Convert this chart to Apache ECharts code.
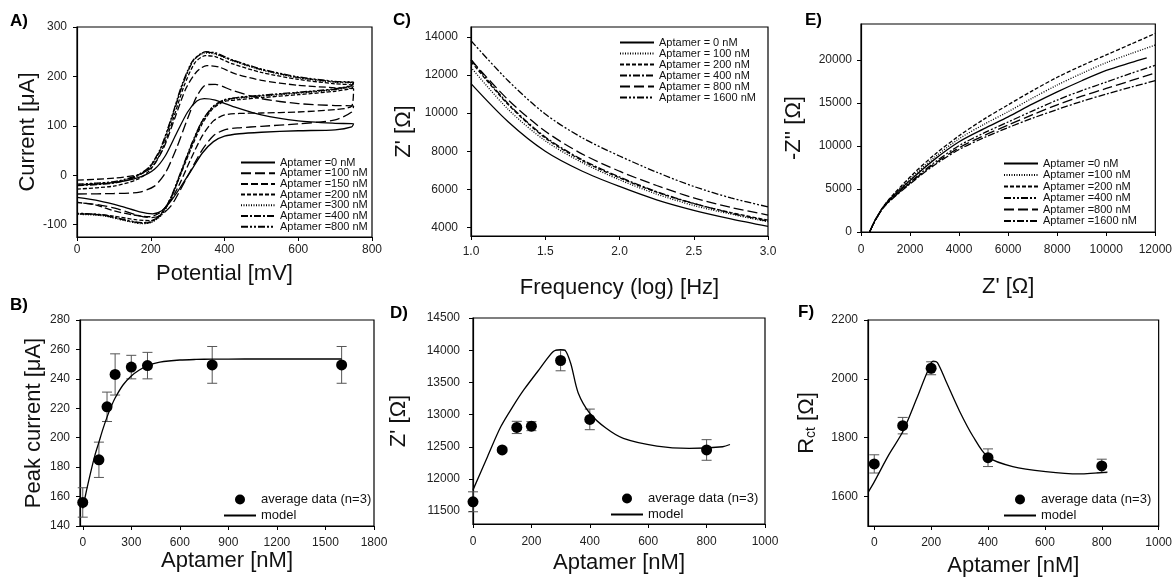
<!DOCTYPE html>
<html>
<head>
<meta charset="utf-8">
<script src="https://cdn.jsdelivr.net/npm/echarts@6/dist/echarts.min.js"></script>
<style>
  html, body { margin: 0; padding: 0; background: #fff; }
  #chart { width: 1175px; height: 583px; }
</style>
</head>
<body>
<div id="chart"></div>
<script>
// ---- A) cyclic voltammetry, [potential mV, current uA], forward then reverse scan
const cv0 = [[0,-20],[100,-15],[170,-4],[210,12],[240,40],[270,85],[300,128],[325,150],[345,155],[375,152],[420,140],[500,122],[600,110],[700,105],[750,104],
  [745,98],[700,92],[600,90],[500,87],[440,84],[400,79],[370,68],[340,45],[310,10],[280,-25],[255,-52],[230,-72],[205,-78],[170,-74],[120,-63],[60,-52],[0,-45]];
const cv100 = [[0,-38],[100,-37],[170,-34],[210,-22],[240,5],[270,55],[300,115],[325,160],[350,183],[375,184],[420,172],[500,155],[600,145],[700,141],[750,140],
  [745,128],[700,112],[600,104],[500,99],[440,96],[400,92],[370,80],[340,52],[310,12],[280,-30],[255,-62],[225,-82],[200,-86],[160,-80],[110,-68],[60,-60],[0,-55]];
const cv150 = [[0,-10],[100,-6],[170,2],[205,18],[235,55],[265,115],[295,175],[325,210],[352,222],[385,219],[430,205],[500,192],[600,182],[700,177],[750,175],
  [745,140],[700,133],[600,128],[500,126],[440,125],[400,122],[370,110],[340,80],[310,35],[280,-15],[255,-50],[225,-76],[195,-84],[150,-80],[100,-72],[50,-60],[0,-55]];
const cv200 = [[0,-28],[100,-22],[165,-8],[200,12],[230,50],[260,112],[290,180],[320,228],[348,242],[375,240],[420,226],[500,208],[600,194],[700,185],[750,182],
  [745,176],[700,170],[600,163],[500,157],[440,153],[400,149],[370,136],[340,105],[310,55],[280,0],[255,-45],[228,-78],[200,-92],[160,-90],[100,-83],[50,-79],[0,-78]];
const cv300 = [[0,-19],[100,-14],[160,-2],[195,15],[225,50],[255,112],[285,182],[315,232],[345,247],[370,246],[420,232],[500,213],[600,197],[700,188],[750,186],
  [745,180],[700,173],[600,166],[500,160],[440,156],[400,151],[370,138],[340,108],[310,58],[280,0],[255,-48],[228,-82],[200,-96],[175,-98],[130,-92],[70,-82],[0,-79]];
const cv400 = [[0,-21],[100,-16],[160,-3],[195,14],[225,49],[255,110],[285,180],[315,231],[347,249],[372,247],[420,233],[500,214],[600,198],[700,189],[750,187],
  [745,181],[700,174],[600,167],[500,161],[440,157],[400,152],[370,139],[340,110],[310,60],[280,2],[255,-46],[228,-80],[200,-95],[175,-97],[130,-91],[70,-81],[0,-78]];
const cv800 = [[0,-18],[100,-13],[160,-1],[195,16],[225,52],[255,114],[285,184],[315,233],[350,250],[375,248],[420,234],[500,215],[600,199],[700,190],[750,188],
  [745,182],[700,175],[600,168],[500,162],[440,158],[400,153],[370,140],[340,111],[310,62],[280,4],[255,-44],[228,-79],[200,-94],[175,-96],[130,-90],[70,-80],[0,-77]];

// ---- C) Z' vs log frequency
const freqLog = [1.0, 1.25, 1.5, 1.75, 2.0, 2.25, 2.5, 2.75, 3.0];
const zre0 = [11550, 9550, 8000, 6950, 6150, 5450, 4900, 4450, 4050];
const zre100 = [12400, 10200, 8550, 7400, 6500, 5750, 5150, 4700, 4300];
const zre200 = [12700, 10450, 8700, 7500, 6600, 5850, 5250, 4780, 4380];
const zre400 = [12800, 10500, 8750, 7550, 6650, 5880, 5260, 4750, 4330];
const zre800 = [12800, 10700, 9050, 7850, 6950, 6200, 5550, 5050, 4650];
const zre1600 = [13800, 11700, 9950, 8700, 7750, 6900, 6150, 5550, 5080];

// ---- E) Nyquist, [Z', -Z'']
const ny0 = [[350,0],[600,1500],[1000,3250],[2000,6000],[3000,8450],[4000,10500],[5000,12000],[6000,13400],[7000,14900],[8000,16300],[9000,17600],[10000,18800],[11000,19700],[11650,20250]];
const ny100 = [[350,0],[600,1500],[1000,3300],[2000,6200],[3000,8700],[4000,10850],[5000,12500],[6000,14000],[7000,15600],[8000,17100],[9000,18450],[10000,19700],[11000,20750],[12000,21750]];
const ny200 = [[350,0],[600,1500],[1000,3300],[2000,6400],[3000,9000],[4000,11200],[5000,13100],[6000,14800],[7000,16450],[8000,18000],[9000,19350],[10000,20600],[11000,21850],[12000,23100]];
const ny400 = [[350,0],[600,1450],[1000,3200],[2000,5800],[3000,8100],[4000,10050],[5000,11500],[6000,12800],[7000,14100],[8000,15350],[9000,16450],[10000,17450],[11000,18450],[12000,19400]];
const ny800 = [[350,0],[600,1450],[1000,3150],[2000,5700],[3000,7950],[4000,9800],[5000,11200],[6000,12450],[7000,13650],[8000,14800],[9000,15800],[10000,16700],[11000,17600],[12000,18500]];
const ny1600 = [[350,0],[600,1450],[1000,3100],[2000,5600],[3000,7800],[4000,9600],[5000,10950],[6000,12150],[7000,13250],[8000,14250],[9000,15200],[10000,16050],[11000,16850],[12000,17600]];

// ---- B) peak current
const aptB = [0, 100, 150, 200, 300, 400, 800, 1600];
const peakMean = [156, 185, 221, 243, 248, 249, 249.5, 249.5];
const peakErr = [10, 12, 10, 14, 8, 9, 12.5, 12.5];
const modelB = [[0,152],[25,165],[50,177],[75,188],[100,197],[125,206],[150,214],[175,221],[200,227],[250,236],[300,242],[350,246],[400,249],[450,250.7],[500,251.8],[600,252.8],[700,253.2],[800,253.4],[1000,253.5],[1600,253.5]];

// ---- D) Z'
const aptD = [0, 100, 150, 200, 300, 400, 800];
const zMean = [11645, 12450, 12800, 12820, 13840, 12925, 12450];
const zErr = [155, 30, 95, 70, 160, 160, 160];
const modelD = [[0,11830],[50,12350],[95,12810],[140,13150],[175,13390],[230,13720],[275,13980],[300,14010],[315,14000],[335,13790],[360,13340],[400,13020],[455,12790],[515,12630],[630,12510],[740,12475],[855,12500],[880,12535]];

// ---- F) Rct
const aptF = [0, 100, 200, 400, 800];
const rctMean = [1711, 1841, 2036, 1732, 1704];
const rctErr = [31, 28, 22, 30, 23];
const modelF = [[-20,1617],[0,1650],[50,1740],[100,1820],[150,1935],[185,2020],[207,2060],[222,2055],[253,1990],[300,1890],[347,1805],[400,1734],[487,1702],[603,1685],[720,1677],[820,1683]];

const font = 'Liberation Sans, Arial, sans-serif';
const ink = '#111';

const chart = echarts.init(document.getElementById('chart'));

const grid = [
  { left: 77, top: 27, width: 295, height: 210 },   // A
  { left: 80, top: 320, width: 294, height: 206 },  // B
  { left: 471, top: 27, width: 297, height: 209 },  // C
  { left: 473, top: 318, width: 292, height: 206 }, // D
  { left: 861, top: 24, width: 296, height: 208 },  // E
  { left: 868, top: 320, width: 292, height: 206 }, // F
].map((g) => ({ ...g, show: true, borderColor: '#000', borderWidth: 1.2, backgroundColor: 'transparent' }));

const plain = (v) => String(v);

const axis = (gridIndex, min, max, ticks, name, nameGap, margin, fmt) => ({
  type: 'value',
  gridIndex,
  min,
  max,
  name,
  nameLocation: 'middle',
  nameGap,
  nameTextStyle: { fontSize: 22, color: ink, fontFamily: font },
  axisLine: { show: true, onZero: false, lineStyle: { color: '#000', width: 1.2 } },
  axisTick: { show: true, inside: false, length: 4, customValues: ticks, lineStyle: { color: '#000' } },
  axisLabel: { customValues: ticks, fontSize: 12, color: '#222', fontFamily: font, margin, formatter: fmt || plain },
  splitLine: { show: false },
});

const xAxis = [
  axis(0, 0, 800, [0, 200, 400, 600, 800], 'Potential [mV]', 26, 7),
  axis(1, -17, 1800, [0, 300, 600, 900, 1200, 1500, 1800], 'Aptamer [nM]', 22, 11),
  axis(2, 1, 3, [1, 1.5, 2, 2.5, 3], 'Frequency (log) [Hz]', 41, 10, (v) => v.toFixed(1)),
  axis(3, 0, 1000, [0, 200, 400, 600, 800, 1000], 'Aptamer [nM]', 28, 12),
  axis(4, 0, 12000, [0, 2000, 4000, 6000, 8000, 10000, 12000], "Z' [Ω]", 44, 12),
  axis(5, -22, 1000, [0, 200, 400, 600, 800, 1000], 'Aptamer [nM]', 29, 11),
];

const rctAxis = axis(5, 1500, 2200, [1600, 1800, 2000, 2200], '{r|R}{s|ct}{r| [Ω]}', 50, 10);
rctAxis.nameTextStyle.rich = {
  r: { fontSize: 22, color: ink, fontFamily: font },
  s: { fontSize: 14, color: ink, fontFamily: font, padding: [9, 0, 0, 0] },
};

const yAxis = [
  axis(0, -125, 300, [-100, 0, 100, 200, 300], 'Current [μA]', 34, 10),
  axis(1, 140, 280, [140, 160, 180, 200, 220, 240, 260, 280], 'Peak current [μA]', 35, 10),
  axis(2, 3550, 14520, [4000, 6000, 8000, 10000, 12000, 14000], "Z' [Ω]", 56, 13),
  axis(3, 11300, 14500, [11500, 12000, 12500, 13000, 13500, 14000, 14500], "Z' [Ω]", 63, 13),
  axis(4, 0, 24200, [0, 5000, 10000, 15000, 20000], "-Z'' [Ω]", 56, 9),
  rctAxis,
];

const line = (name, data, grid, dash, smooth) => ({
  name,
  type: 'line',
  xAxisIndex: grid,
  yAxisIndex: grid,
  data,
  symbol: 'none',
  smooth: smooth === undefined ? 0.3 : smooth,
  color: '#000',
  lineStyle: { color: '#000', width: 1.3, type: dash || 'solid' },
  animation: false,
});

const zip = (xs, ys) => xs.map((x, i) => [x, ys[i]]);

const errorBars = (name, grid, xs, means, errs) => ({
  name,
  type: 'custom',
  xAxisIndex: grid,
  yAxisIndex: grid,
  data: xs.map((x, i) => [x, means[i], errs[i]]),
  z: 1,
  animation: false,
  renderItem: (params, api) => {
    const x = api.value(0);
    const y = api.value(1);
    const e = api.value(2);
    const top = api.coord([x, y + e]);
    const bot = api.coord([x, y - e]);
    const hw = 5;
    const st = { stroke: '#555', lineWidth: 1 };
    return {
      type: 'group',
      children: [
        { type: 'line', shape: { x1: top[0], y1: top[1], x2: bot[0], y2: bot[1] }, style: st },
        { type: 'line', shape: { x1: top[0] - hw, y1: top[1], x2: top[0] + hw, y2: top[1] }, style: st },
        { type: 'line', shape: { x1: bot[0] - hw, y1: bot[1], x2: bot[0] + hw, y2: bot[1] }, style: st },
      ],
    };
  },
});

const dots = (name, grid, xs, means) => ({
  name,
  type: 'scatter',
  xAxisIndex: grid,
  yAxisIndex: grid,
  data: zip(xs, means),
  symbol: 'circle',
  symbolSize: 11,
  color: '#000',
  itemStyle: { color: '#000', opacity: 1 },
  z: 3,
  animation: false,
});

const dashLong = [10, 4];
const dashMid = [7, 3];
const dashShort = [4, 2];
const dotted = [1, 1.5];
const dashDot = [7, 2, 2, 2];
const dashDotDot = [7, 2, 2, 2, 2, 2];

const seriesA = [
  line('A|Aptamer =0 nM', cv0, 0, 'solid', 0.25),
  line('A|Aptamer =100 nM', cv100, 0, dashLong, 0.25),
  line('A|Aptamer =150 nM', cv150, 0, dashMid, 0.25),
  line('A|Aptamer =200 nM', cv200, 0, dashShort, 0.25),
  line('A|Aptamer =300 nM', cv300, 0, dotted, 0.25),
  line('A|Aptamer =400 nM', cv400, 0, dashDot, 0.25),
  line('A|Aptamer =800 nM', cv800, 0, dashDotDot, 0.25),
];

const seriesC = [
  line('C|Aptamer = 0 nM', zip(freqLog, zre0), 2, 'solid'),
  line('C|Aptamer = 100 nM', zip(freqLog, zre100), 2, dotted),
  line('C|Aptamer = 200 nM', zip(freqLog, zre200), 2, dashShort),
  line('C|Aptamer = 400 nM', zip(freqLog, zre400), 2, dashDot),
  line('C|Aptamer = 800 nM', zip(freqLog, zre800), 2, dashLong),
  line('C|Aptamer = 1600 nM', zip(freqLog, zre1600), 2, dashDotDot),
];

const seriesE = [
  line('E|Aptamer =0 nM', ny0, 4, 'solid'),
  line('E|Aptamer =100 nM', ny100, 4, dotted),
  line('E|Aptamer =200 nM', ny200, 4, dashShort),
  line('E|Aptamer =400 nM', ny400, 4, dashDotDot),
  line('E|Aptamer =800 nM', ny800, 4, dashLong),
  line('E|Aptamer =1600 nM', ny1600, 4, dashDot),
];

const seriesB = [
  errorBars('B|err', 1, aptB, peakMean, peakErr),
  line('B|model', modelB, 1, 'solid'),
  dots('B|average data (n=3)', 1, aptB, peakMean),
];
const seriesD = [
  errorBars('D|err', 3, aptD, zMean, zErr),
  line('D|model', modelD, 3, 'solid'),
  dots('D|average data (n=3)', 3, aptD, zMean),
];
const seriesF = [
  errorBars('F|err', 5, aptF, rctMean, rctErr),
  line('F|model', modelF, 5, 'solid'),
  dots('F|average data (n=3)', 5, aptF, rctMean),
];

const legendBase = {
  orient: 'vertical',
  selectedMode: false,
  formatter: (name) => name.split('|')[1],
  padding: 0,
};
// line icons only: hide the symbol that echarts puts in the middle of the legend line
const curveLegend = (series, left, top, gap) => ({
  ...legendBase,
  data: series.map((s) => s.name),
  left,
  top,
  itemWidth: 34,
  itemHeight: 8,
  itemGap: gap,
  itemStyle: { opacity: 0 },
  textStyle: { fontSize: 11, lineHeight: 9, color: ink, fontFamily: font },
});
const fitLegend = (key, left, top) => ({
  ...legendBase,
  data: [
    { name: key + '|average data (n=3)', itemStyle: { opacity: 1 } },
    { name: key + '|model', itemStyle: { opacity: 0 } },
  ],
  left,
  top,
  itemWidth: 32,
  itemHeight: 10,
  itemGap: 3,
  textStyle: { fontSize: 13, lineHeight: 10, color: ink, fontFamily: font },
});

const panelTitle = (text, left, top) => ({
  text,
  left,
  top,
  padding: 0,
  textStyle: { fontSize: 17, fontWeight: 'bold', color: '#000', fontFamily: font },
});

const option = {
  animation: false,
  backgroundColor: '#fff',
  textStyle: { fontFamily: font },
  title: [
    panelTitle('A)', 10, 13),
    panelTitle('B)', 10, 297),
    panelTitle('C)', 393, 12),
    panelTitle('D)', 390, 305),
    panelTitle('E)', 805, 12),
    panelTitle('F)', 798, 304),
  ],
  legend: [
    curveLegend(seriesA, 240, 157, -0.3),
    curveLegend(seriesC, 619, 37, 0),
    curveLegend(seriesE, 1003, 158, 0.5),
    fitLegend('B', 223, 493),
    fitLegend('D', 610, 492),
    fitLegend('F', 1003, 493),
  ],
  grid,
  xAxis,
  yAxis,
  series: [...seriesA, ...seriesC, ...seriesE, ...seriesB, ...seriesD, ...seriesF],
};

chart.setOption(option);
</script>
</body>
</html>
